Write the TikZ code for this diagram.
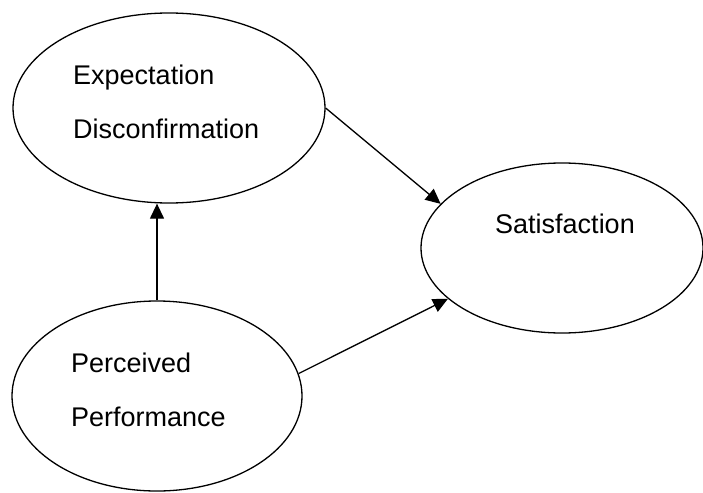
\documentclass[tikz,border=0pt]{standalone}
\usepackage{fontspec}
\setmainfont{Liberation Sans}
\usetikzlibrary{shapes.geometric,arrows.meta}

\begin{document}
\begin{tikzpicture}[x=1pt, y=-1pt,
construct/.style={ellipse, draw=black, line width=1.3pt, inner sep=0pt},
label/.style={anchor=base west, inner sep=0pt, font=\fontsize{27}{32}\selectfont},
link/.style={line width=1.3pt, -{Triangle[length=15pt,width=14pt]}}
]
\useasboundingbox (0,0) rectangle (703,492);
%Nodes
\node[construct, minimum width=312pt, minimum height=190pt] (ed)  at (169,108) {};
\node[construct, minimum width=282pt, minimum height=170pt] (sat) at (562,248) {};
\node[construct, minimum width=290pt, minimum height=190pt] (pp)  at (157,396) {};
%Texts
\node[label] (edA)  at (73,85)   {Expectation};
\node[label] (edB)  at (73,138)  {Disconfirmation};
\node[label] (satA) at (495,233) {Satisfaction};
\node[label] (ppA)  at (71,372)  {Perceived};
\node[label] (ppB)  at (71,426)  {Performance};
%Lines
\draw[link] (pp.north) -- (pp.north |- ed.south);
\draw[link] (ed.east) -- (sat.160);
\draw[link] (pp.9) -- (sat.204);
\end{tikzpicture}
\end{document}
